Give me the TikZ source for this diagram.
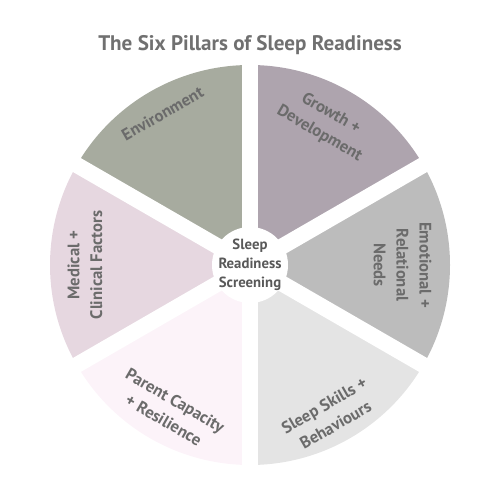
\documentclass[tikz,border=0pt]{standalone}
\usepackage{fontspec}
\setmainfont{PT Sans}

\definecolor{envcol}{HTML}{A7AB9F}
\definecolor{growcol}{HTML}{AEA4AE}
\definecolor{emocol}{HTML}{BCBCBC}
\definecolor{skillcol}{HTML}{E4E4E4}
\definecolor{parentcol}{HTML}{FCF3F9}
\definecolor{medcol}{HTML}{E6D7E0}
\definecolor{labelgray}{HTML}{6B6B6B}
\definecolor{titlegray}{HTML}{707070}

\begin{document}
\begin{tikzpicture}[every node/.style={align=center, text=labelgray, font=\bfseries\fontsize{9.5}{13}\selectfont}]
        \useasboundingbox (-5,-4.7) rectangle (5,5.3);

        % pillars
        \fill[envcol] (0,0) -- (90:4) arc (90:150:4) -- cycle;
        \fill[growcol] (0,0) -- (30:4) arc (30:90:4) -- cycle;
        \fill[emocol] (0,0) -- (-30:4) arc (-30:30:4) -- cycle;
        \fill[skillcol] (0,0) -- (-90:4) arc (-90:-30:4) -- cycle;
        \fill[parentcol] (0,0) -- (-150:4) arc (-150:-90:4) -- cycle;
        \fill[medcol] (0,0) -- (150:4) arc (150:210:4) -- cycle;

        % gaps and hub
        \foreach \a in {30,90,...,330}
            \draw[white, line width=0.32cm] (0,0) -- (\a:4.3);
        \fill[white] (0,0) circle (0.76);

        \node (title) [text=titlegray, font=\bfseries\fontsize{12}{15}\selectfont] at (0,4.4) {The Six Pillars of Sleep Readiness};
        \node (hub) [text=black!65, font=\bfseries\fontsize{8.4}{10.8}\selectfont] at (0,0) {Sleep\\Readiness\\Screening};

        \node (env) [rotate=30] at (120:3.5) {Environment};
        \node (growth) [rotate=-30] at (62:3.2) {Growth +\\Development};
        \node (emotional) [rotate=-90] at (0:3.05) {Emotional +\\Relational\\Needs};
        \node (skills) [rotate=30] at (298:3.4) {Sleep Skills +\\Behaviours};
        \node (parent) [rotate=-30] at (241:3.32) {Parent Capacity\\+ Resilience};
        \node (medical) [rotate=90] at (180:3.3) {Medical +\\Clinical Factors};
    \end{tikzpicture}
\end{document}
